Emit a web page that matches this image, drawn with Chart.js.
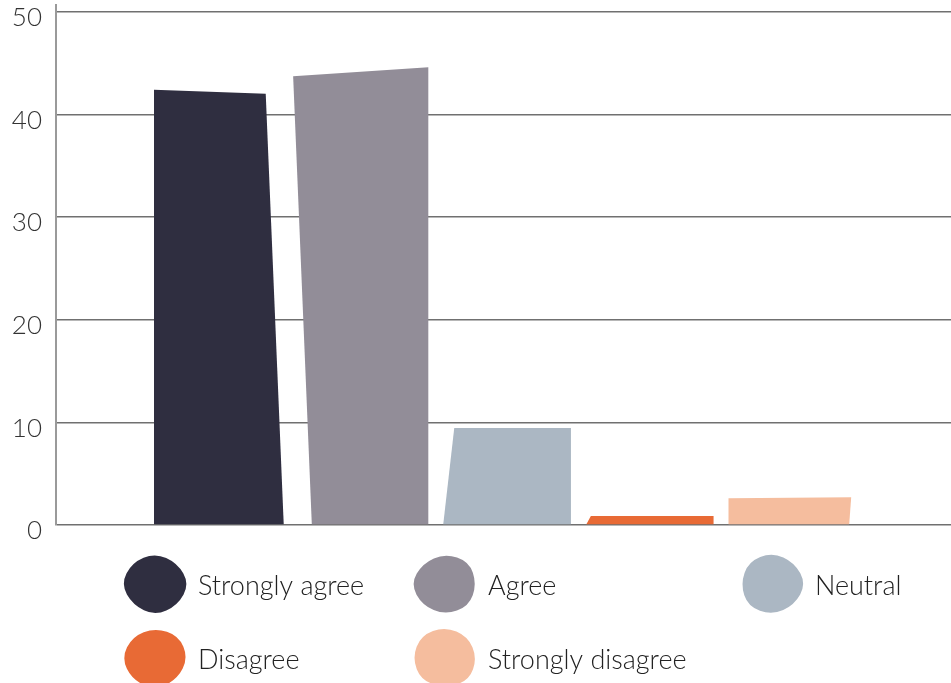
<!DOCTYPE html>
<html>
<head>
<meta charset="utf-8">
<script src="https://cdn.jsdelivr.net/npm/chart.js@4.4.0/dist/chart.umd.min.js"></script>
<style>
  html, body { margin: 0; padding: 0; background: #fff; }
</style>
</head>
<body>
<canvas id="chart" width="951" height="683"></canvas>
<script>
// data
const categories = ["Strongly agree", "Agree", "Neutral", "Disagree", "Strongly disagree"];
const values = [42.2, 44.1, 9.45, 0.88, 2.6];
const positions = [0, 1, 2, 3, 4];
const yTicks = [0, 10, 20, 30, 40, 50];

// styles
const colors = ["#2f2e40", "#928d98", "#abb7c3", "#e86a35", "#f5bd9e"];
// hand-cut look: corner nudges in px [tlx, tly, trx, try, brx, blx]
const skew = [
  [0, -2, -18, 2, 0, 0],
  [-5, 4, 0.5, -5, 0.5, 13.7],
  [12, 0, -1, 0, -1, 1],
  [4.5, 0, -2.5, 0, -2.5, 0],
  [-2, 0, -9, -1, -11, -2]
];
const blobShapes = [
  [1.0, 0.96, 1.04, 0.97, 1.02, 0.95, 1.03, 0.98],
  [0.98, 1.03, 0.96, 1.02, 0.99, 0.97, 1.04, 0.95],
  [1.02, 0.97, 1.03, 0.96, 1.0, 1.03, 0.95, 1.01],
  [0.97, 1.02, 1.0, 0.96, 1.04, 0.98, 1.01, 0.97],
  [1.01, 0.98, 0.97, 1.03, 0.96, 1.02, 0.99, 1.03]
];
const legendCols = [125, 415, 742];
const legendRows = [585, 659];
const FONT = "Lato, 'Open Sans', sans-serif";

function blob(ctx, cx, cy, rx, ry, shape) {
  const n = shape.length;
  const pts = shape.map((r, k) => {
    const a = k / n * Math.PI * 2 - Math.PI / 2;
    return [cx + Math.cos(a) * rx * r, cy + Math.sin(a) * ry * r];
  });
  const mid = (p, q) => [(p[0] + q[0]) / 2, (p[1] + q[1]) / 2];
  ctx.beginPath();
  let m = mid(pts[n - 1], pts[0]);
  ctx.moveTo(m[0], m[1]);
  for (let k = 0; k < n; k++) {
    const p = pts[k];
    const q = mid(p, pts[(k + 1) % n]);
    ctx.quadraticCurveTo(p[0], p[1], q[0], q[1]);
  }
  ctx.closePath();
  ctx.fill();
}

// draws the bars as slightly uneven paper cut-outs, from chart.js bar geometry
const cutBars = {
  id: "cutBars",
  afterDatasetsDraw(chart) {
    const ctx = chart.ctx;
    const meta = chart.getDatasetMeta(0);
    ctx.save();
    meta.data.forEach((bar, i) => {
      const p = bar.getProps(["x", "y", "base", "width"], true);
      const l = p.x - p.width / 2, r = p.x + p.width / 2;
      const s = skew[i];
      ctx.fillStyle = colors[i];
      ctx.beginPath();
      ctx.moveTo(l + s[0], p.y + s[1]);
      ctx.lineTo(r + s[2], p.y + s[3]);
      ctx.lineTo(r + s[4], p.base);
      ctx.lineTo(l + s[5], p.base);
      ctx.closePath();
      ctx.fill();
    });
    ctx.restore();
  }
};

// legend with round blobs, 3 per row
const blobLegend = {
  id: "blobLegend",
  afterDraw(chart) {
    const ctx = chart.ctx;
    ctx.save();
    chart.data.labels.forEach((label, i) => {
      const x = legendCols[i % 3];
      const y = legendRows[Math.floor(i / 3)];
      ctx.fillStyle = colors[i];
      blob(ctx, x + 30, y - 1, 33, 31, blobShapes[i]);
      ctx.fillStyle = "#222";
      ctx.font = "300 27px " + FONT;
      ctx.textBaseline = "middle";
      ctx.textAlign = "left";
      ctx.fillText(label, x + 73, y + 1);
    });
    ctx.restore();
  }
};

const ctx = document.getElementById("chart").getContext("2d");
new Chart(ctx, {
  type: "bar",
  data: {
    labels: categories,
    datasets: [{
      data: positions.map((p, i) => ({ x: p, y: values[i] })),
      backgroundColor: "rgba(0,0,0,0)",
      barPercentage: 0.9,
      categoryPercentage: 1
    }]
  },
  plugins: [cutBars, blobLegend],
  options: {
    responsive: false,
    animation: false,
    layout: { padding: { top: 5, bottom: 158, left: 0, right: 0 } },
    plugins: { legend: { display: false }, tooltip: { enabled: false } },
    scales: {
      x: {
        type: "linear",
        min: -1.13,
        max: 5.08,
        offset: false,
        display: false
      },
      y: {
        min: 0,
        max: 50.65,
        afterFit(scale) {
          scale.width = 56;
          scale.paddingTop = 0;
          scale.paddingBottom = 0;
        },
        afterBuildTicks(scale) { scale.ticks = yTicks.map(v => ({ value: v })); },
        ticks: {
          includeBounds: false,
          padding: 14,
          labelOffset: 6,
          color: "#333",
          font: { family: FONT, size: 26, weight: 300 }
        },
        grid: { color: "#707070", lineWidth: 1.5, drawTicks: false },
        border: { display: true, color: "#9a9a9a", width: 2 }
      }
    }
  }
});
</script>
</body>
</html>
